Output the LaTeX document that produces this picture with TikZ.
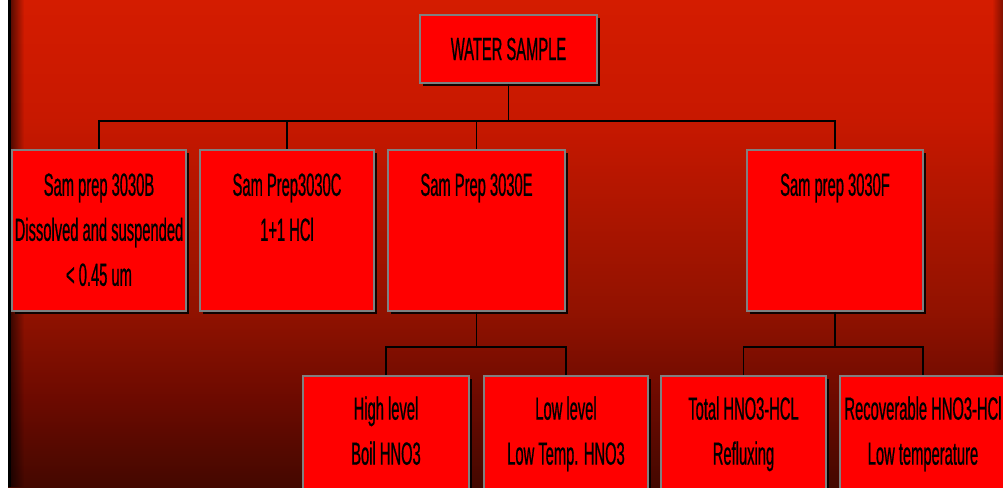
\documentclass[tikz,border=0pt]{standalone}
\usepackage{fontspec}
\newfontfamily\narrowfont[FakeStretch=0.46, FakeBold=0.6]{Liberation Sans}
\usetikzlibrary{positioning}
\usetikzlibrary{shadows}
\usetikzlibrary{fadings}
\definecolor{bgtop}{RGB}{212,28,0}
\definecolor{bgupper}{RGB}{200,24,0}
\definecolor{bgmid}{RGB}{145,18,0}
\definecolor{bglow}{RGB}{108,10,0}
\definecolor{bgbottom}{RGB}{68,8,0}
\definecolor{boxred}{RGB}{255,0,0}
\definecolor{boxrim}{RGB}{128,128,128}
\pgfdeclareverticalshading{redfade}{100bp}{color(0bp)=(bgbottom); color(25bp)=(bgbottom); color(34bp)=(bglow); color(43bp)=(bgmid); color(63bp)=(bgupper); color(75bp)=(bgtop); color(100bp)=(bgtop)}

\begin{document}
\begin{tikzpicture}[x=1pt, y=-1pt,
    box/.style={draw=boxrim, line width=1.5pt, fill=boxred, inner sep=0pt,
      drop shadow={shadow xshift=3pt, shadow yshift=-3pt, fill=black, opacity=.9}},
    boxtext/.style={font=\narrowfont\fontsize{32}{45}\selectfont, align=center, inner sep=0pt},
    link/.style={line width=1.5pt, draw=black}]
    \useasboundingbox (0,0) rectangle (1003,487);
    \fill[white] (0,0) rectangle (1003,487);
    \shade[shading=redfade] (8,0) rectangle (1003,487);
    \fill[black, path fading=east, opacity=.6] (10,0) rectangle (24,487);
    \fill[black, path fading=west, opacity=.4] (992,0) rectangle (1003,487);
    \draw[line width=3pt] (9,0) -- (9,487);

    \node[box, boxtext, minimum width=177pt, minimum height=68pt] (ws) at (508.5,49) {WATER SAMPLE};

    \node[box, minimum width=174pt, minimum height=161pt] (b) at (99,230.5) {};
    \node[box, minimum width=174pt, minimum height=161pt] (c) at (287,230.5) {};
    \node[box, minimum width=177pt, minimum height=161pt] (e) at (476.5,230.5) {};
    \node[box, minimum width=176pt, minimum height=161pt] (f) at (835,230.5) {};
    \node[boxtext, below=24pt of b.north] (b-text) {Sam prep 3030B\\Dissolved and suspended\\< 0.45 um};
    \node[boxtext, below=24pt of c.north] (c-text) {Sam Prep3030C\\1+1 HCl};
    \node[boxtext, below=24pt of e.north] (e-text) {Sam Prep 3030E};
    \node[boxtext, below=24pt of f.north] (f-text) {Sam prep 3030F};

    \node[box, minimum width=166pt, minimum height=124pt] (hi) at (386,438) {};
    \node[box, minimum width=164pt, minimum height=124pt] (lo) at (566,438) {};
    \node[box, minimum width=165pt, minimum height=124pt] (tot) at (743.5,438) {};
    \node[box, minimum width=166pt, minimum height=124pt] (rec) at (923,438) {};
    \node[boxtext, below=21pt of hi.north] (hi-text) {High level\\Boil HNO3};
    \node[boxtext, below=21pt of lo.north] (lo-text) {Low level\\Low Temp. HNO3};
    \node[boxtext, below=21pt of tot.north] (tot-text) {Total HNO3-HCL\\Refluxing};
    \node[boxtext, below=21pt of rec.north] (rec-text) {Recoverable HNO3-HCl\\Low temperature};

    \coordinate (bus) at (508.5,121);
    \coordinate (ebus) at (476.5,347);
    \coordinate (fbus) at (835,347);
    \draw[link] (ws.south) -- (bus);
    \foreach \n in {b,c,e,f}
        \draw[link] (bus) -| (\n.north);
    \draw[link] (e.south) -- (ebus);
    \foreach \n in {hi,lo}
        \draw[link] (ebus) -| (\n.north);
    \draw[link] (f.south) -- (fbus);
    \foreach \n in {tot,rec}
        \draw[link] (fbus) -| (\n.north);
\end{tikzpicture}
\end{document}
